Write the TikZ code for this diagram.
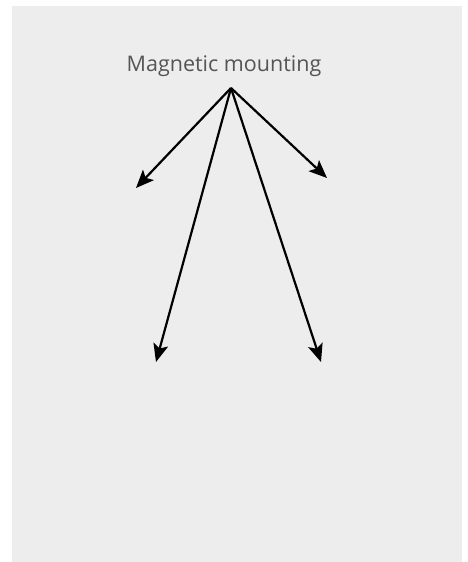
\documentclass[tikz,border=0pt]{standalone}
\usepackage{fontspec}
\setmainfont{Open Sans}
\usepackage{tikz}
\usetikzlibrary{arrows.meta,positioning,calc}
\definecolor{fond}{HTML}{EDEDED}
\definecolor{etiq}{HTML}{555555}
\tikzset{
  titre/.style={inner sep=0pt, text=etiq, font=\fontsize{21.5}{24}\selectfont, anchor=base},
  arr/.style={-{Stealth[length=18pt, width=15pt, inset=4pt]}, line width=2.2pt, draw=black},
}

\begin{document}
\begin{tikzpicture}[x=1pt, y=-1pt]
        \useasboundingbox (0,0) rectangle (467,562);
        \fill[fond] (12,6) rectangle (462,562);
        \node[titre] (lab) at (224,71) {Magnetic mounting};
        \coordinate (src) at (231,88);
        \coordinate (g1) at (136,188); \coordinate (d1) at (327,178);
        \coordinate (g2) at (156,362); \coordinate (d2) at (321,362);
        \draw[arr] (src) -- (g1); \draw[arr] (src) -- (d1);
        \draw[arr] (src) -- (g2); \draw[arr] (src) -- (d2);
      \end{tikzpicture}
\end{document}
